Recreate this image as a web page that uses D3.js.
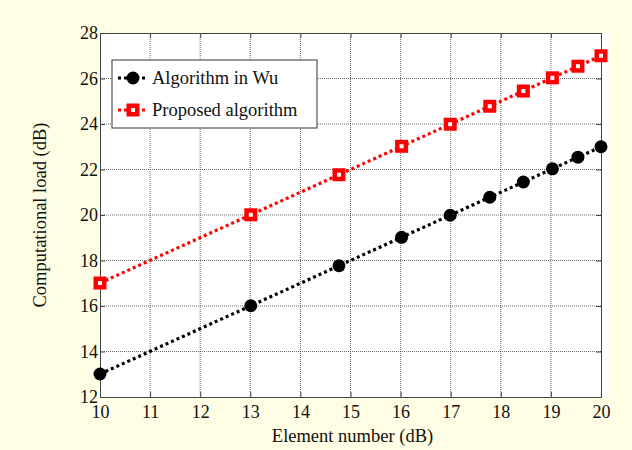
<!DOCTYPE html>
<html>
<head>
<meta charset="utf-8">
<script src="https://cdn.jsdelivr.net/npm/d3@7"></script>
<style>
  body { margin: 0; background: #fffde3; }
  text { font-family: "Liberation Serif", "Times New Roman", serif; }
</style>
</head>
<body>
<div id="chart"></div>
<script>
// element number (dB) = 10*log10(N), N = 10..100
var xVals = [10, 13.01, 14.77, 16.02, 16.99, 17.78, 18.45, 19.03, 19.54, 20];
var wuVals = [13.01, 16.01, 17.77, 19.02, 19.99, 20.78, 21.45, 22.03, 22.54, 23];
var propVals = [17.01, 20.01, 21.77, 23.02, 23.99, 24.78, 25.45, 26.03, 26.54, 27];
var xTicks = [10, 11, 12, 13, 14, 15, 16, 17, 18, 19, 20];
var yTicks = [12, 14, 16, 18, 20, 22, 24, 26, 28];
var seriesNames = ["Algorithm in Wu", "Proposed algorithm"];

var margin = {top: 33, right: 31, bottom: 53, left: 100},
    width = 632 - margin.left - margin.right,
    height = 450 - margin.top - margin.bottom;

var svg = d3.select("#chart")
    .append("svg")
    .attr("width", 632)
    .attr("height", 450);

svg.append("rect")
    .attr("width", 632).attr("height", 450)
    .attr("fill", "#fffde3");

var g = svg.append("g")
    .attr("transform", "translate(" + margin.left + "," + margin.top + ")");

var x = d3.scaleLinear().domain([10, 20]).range([0, width]);
var y = d3.scaleLinear().domain([12, 28]).range([height, 0]);

// white axes area
g.append("rect")
    .attr("x", 0).attr("y", 0)
    .attr("width", width + 8).attr("height", height)
    .attr("fill", "#fff");

// grid
g.selectAll(".vgrid")
    .data(xTicks.slice(1, -1))
    .enter().append("line")
    .attr("x1", function(d) { return x(d); })
    .attr("x2", function(d) { return x(d); })
    .attr("y1", 0).attr("y2", height)
    .attr("stroke", "#444").attr("stroke-width", 0.8)
    .attr("stroke-dasharray", "1,1");
g.selectAll(".hgrid")
    .data(yTicks.slice(1, -1))
    .enter().append("line")
    .attr("y1", function(d) { return y(d); })
    .attr("y2", function(d) { return y(d); })
    .attr("x1", 0).attr("x2", width)
    .attr("stroke", "#444").attr("stroke-width", 0.8)
    .attr("stroke-dasharray", "1,1");

// axes
var xAxis = g.append("g")
    .attr("transform", "translate(0," + height + ")")
    .call(d3.axisBottom(x).tickValues(xTicks).tickSize(-5).tickPadding(8).tickFormat(d3.format("d")));
var yAxis = g.append("g")
    .call(d3.axisLeft(y).tickValues(yTicks).tickSize(-5).tickPadding(2).tickFormat(d3.format("d")));
var xAxisTop = g.append("g")
    .call(d3.axisTop(x).tickValues(xTicks).tickSize(-5).tickFormat(""));
var yAxisRight = g.append("g")
    .attr("transform", "translate(" + width + ",0)")
    .call(d3.axisRight(y).tickValues(yTicks).tickSize(-5).tickFormat(""));

[xAxis, yAxis, xAxisTop, yAxisRight].forEach(function(a) {
    a.selectAll("path, line").attr("stroke", "#444");
    a.selectAll("text")
        .attr("fill", "#111")
        .style("font-family", "'Liberation Serif', serif")
        .style("font-size", "18px");
});

// lines
var line = d3.line()
    .x(function(d) { return x(d[0]); })
    .y(function(d) { return y(d[1]); });

var wuData = xVals.map(function(v, i) { return [v, wuVals[i]]; });
var propData = xVals.map(function(v, i) { return [v, propVals[i]]; });

g.append("path")
    .datum(wuData)
    .attr("d", line)
    .attr("fill", "none")
    .attr("stroke", "#000")
    .attr("stroke-width", 3.2)
    .attr("stroke-dasharray", "3,3");

g.append("path")
    .datum(propData)
    .attr("d", line)
    .attr("fill", "none")
    .attr("stroke", "#f00")
    .attr("stroke-width", 3.2)
    .attr("stroke-dasharray", "3,3");

// markers
g.selectAll(".wu")
    .data(wuData)
    .enter().append("circle")
    .attr("cx", function(d) { return x(d[0]); })
    .attr("cy", function(d) { return y(d[1]); })
    .attr("r", 6.5)
    .attr("fill", "#000");

function squareMarker(sel, cx, cy) {
    sel.append("rect")
        .attr("x", cx - 6.5).attr("y", cy - 6.5)
        .attr("width", 13).attr("height", 13)
        .attr("fill", "#f00");
    sel.append("rect")
        .attr("x", cx - 2).attr("y", cy - 2)
        .attr("width", 4).attr("height", 4)
        .attr("fill", "#fff");
}

propData.forEach(function(d) {
    squareMarker(g, x(d[0]), y(d[1]));
});

// legend
var leg = svg.append("g");
leg.append("rect")
    .attr("x", 112).attr("y", 60)
    .attr("width", 205).attr("height", 68)
    .attr("fill", "#fff")
    .attr("stroke", "#333").attr("stroke-width", 1);

var legY = [78, 110];
var legColors = ["#000", "#f00"];
seriesNames.forEach(function(name, i) {
    leg.append("line")
        .attr("x1", 118).attr("x2", 148)
        .attr("y1", legY[i]).attr("y2", legY[i])
        .attr("stroke", legColors[i])
        .attr("stroke-width", 3.2)
        .attr("stroke-dasharray", "3,3");
    if (i == 0) {
        leg.append("circle")
            .attr("cx", 133).attr("cy", legY[i]).attr("r", 6.5)
            .attr("fill", "#000");
    } else {
        squareMarker(leg, 133, legY[i]);
    }
    leg.append("text")
        .attr("x", 152).attr("y", legY[i] + 6)
        .style("font-size", "18.5px")
        .attr("fill", "#111")
        .text(name);
});

// axis labels
svg.append("text")
    .attr("x", margin.left + width / 2 + 2)
    .attr("y", 442)
    .attr("text-anchor", "middle")
    .style("font-size", "18.5px")
    .attr("fill", "#111")
    .text("Element number (dB)");

svg.append("text")
    .attr("transform", "translate(46," + (margin.top + height / 2) + ")rotate(-90)")
    .attr("text-anchor", "middle")
    .style("font-size", "18.5px")
    .attr("fill", "#111")
    .text("Computational load (dB)");
</script>
</body>
</html>
